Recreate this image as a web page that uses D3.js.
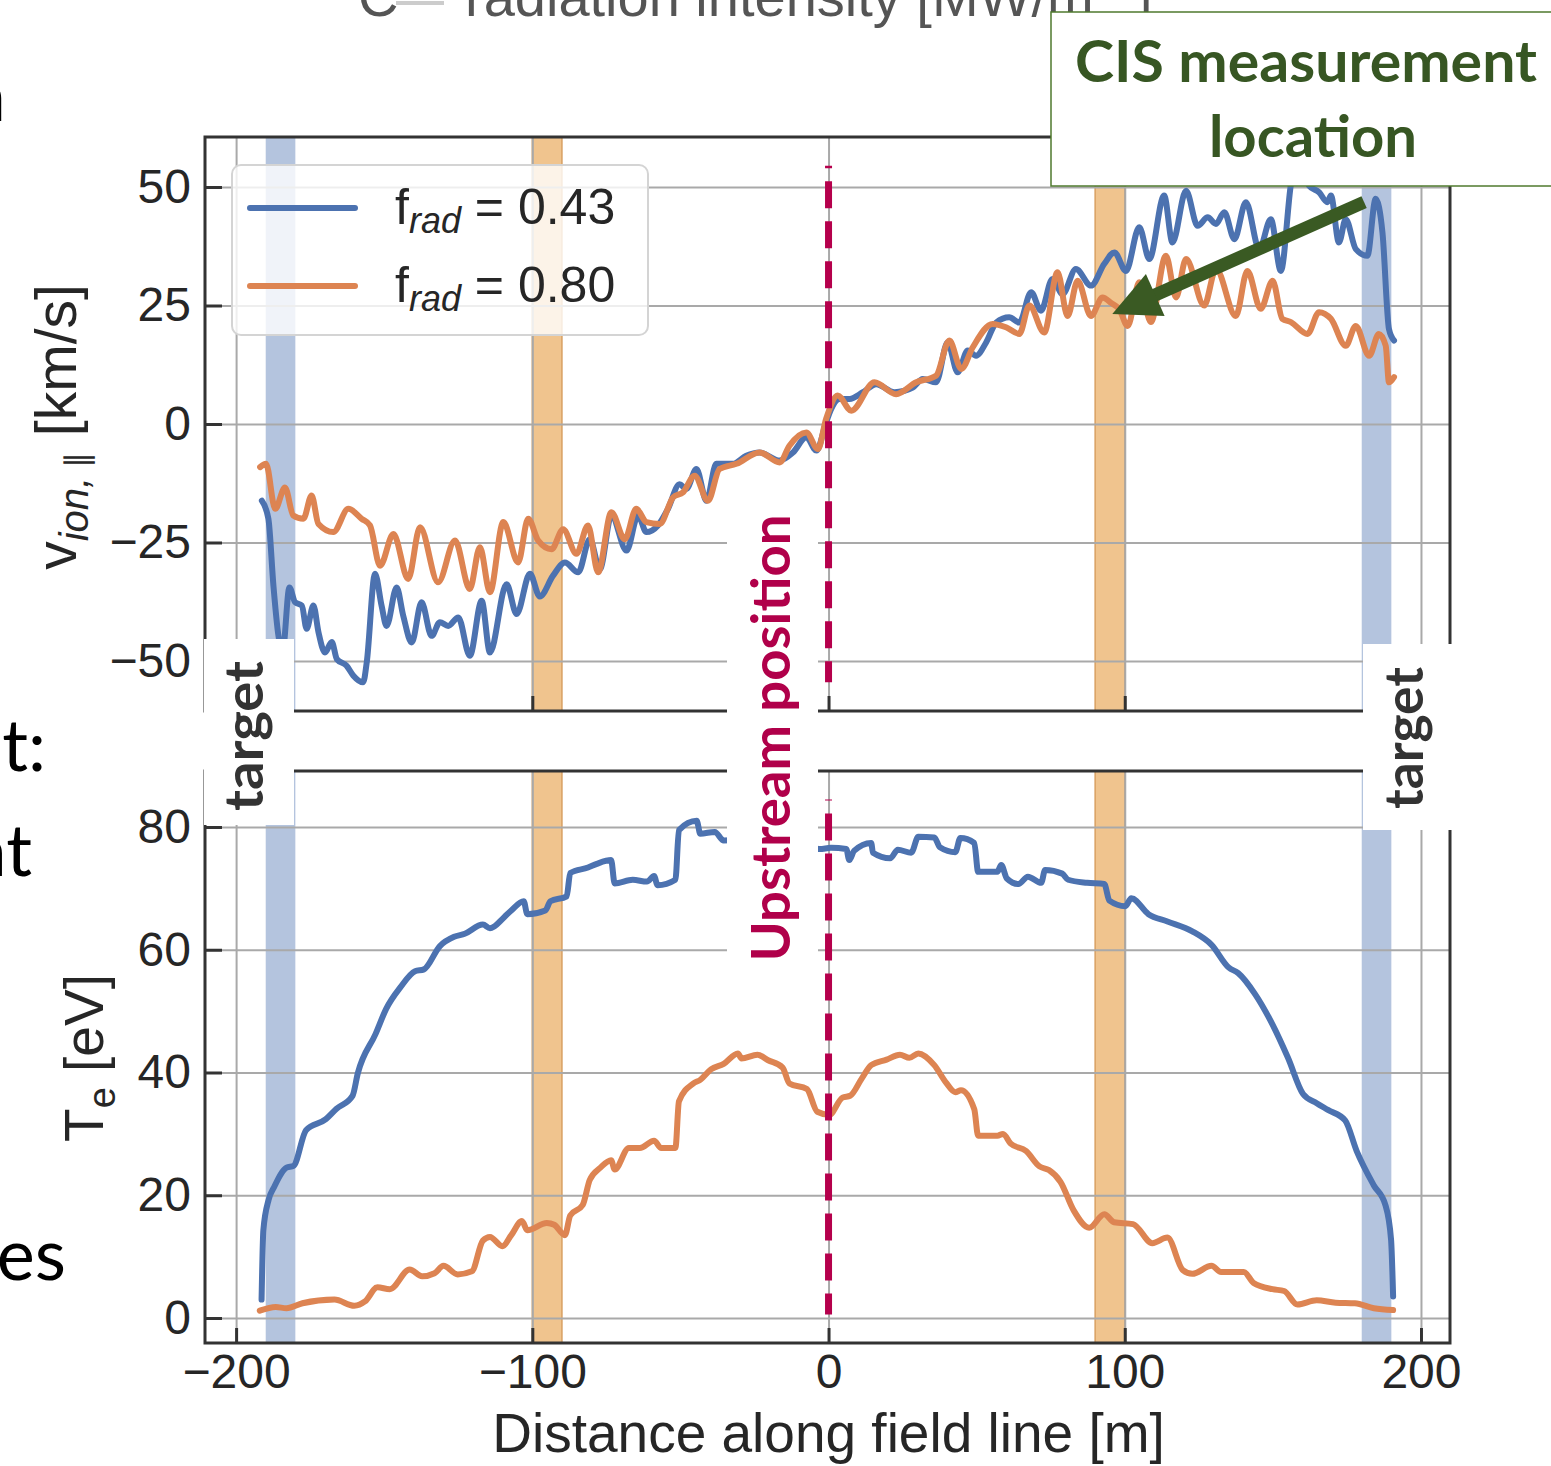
<!DOCTYPE html>
<html>
<head>
<meta charset="utf-8">
<script src="https://d3js.org/d3.v7.min.js"></script>
<style>
  body {margin:0; background:#fff;}
  svg {display:block;}
</style>
</head>
<body>
<div id="chart"></div>
<script>
// ---- data ----
var xTicks = [-200, -100, 0, 100, 200];
var vTicks = [-50, -25, 0, 25, 50];
var tTicks = [0, 20, 40, 60, 80];
var blueBands = [[-190, -180], [180, 190]];
var orangeBands = [[-100, -90], [90, 100]];
var legendLabels = ["0.43", "0.80"];

// parallel ion velocity [km/s], f_rad = 0.43
var vBlue = [[-191.3,-16.2],[-189.1,-20],[-187.4,-34.1],[-185.7,-44.7],[-184.3,-48],[-182,-34.5],[-180.1,-37.6],[-177.8,-38.3],[-176.2,-43.2],[-173.9,-38.3],[-172.2,-43.9],[-170,-48.2],[-167.7,-46],[-166,-49.6],[-162.7,-51],[-160.4,-53.1],[-157.1,-54.5],[-155.9,-50.3],[-153.1,-31.6],[-150.9,-38.3],[-149.2,-42.6],[-145.8,-34.5],[-143.6,-40.4],[-140.7,-46.1],[-137.4,-37.6],[-134,-44.7],[-131.2,-41.8],[-128.4,-42.6],[-125,-40.8],[-121.1,-48.9],[-117.1,-37.3],[-114.3,-48.2],[-108.7,-33.8],[-105.3,-40.1],[-100.8,-31.6],[-97.5,-36.4],[-93,-32],[-89,-29.2],[-84.5,-31.3],[-80.6,-24.3],[-77.2,-30.6],[-73.3,-19.3],[-68.2,-26.7],[-64.3,-19.3],[-61.5,-22.8],[-57.6,-21.4],[-54.2,-17.9],[-50.3,-12.7],[-48,-13.7],[-44.6,-9.5],[-41.2,-16.2],[-37.9,-8.4],[-32.3,-8.4],[-27.8,-6.7],[-23.3,-6],[-16.5,-7.7],[-12,-6],[-7.5,-2.8],[-4.1,-5.6],[-0.8,0.4],[0.9,3.2],[3.7,5.3],[7.1,5.3],[11.6,6.7],[16.1,8.4],[22.3,6.7],[28.4,7.7],[31.8,9.5],[36.3,8.8],[40.2,17.2],[43.6,10.9],[47,15.5],[49.8,14.4],[53.2,17.2],[56.6,21.4],[61,22.5],[64.4,21.4],[68.4,27.8],[71.7,23.9],[75.6,30.6],[79,27.4],[83.5,32.7],[88.6,29.2],[93.1,33.8],[96.5,36.2],[100.4,32.3],[104.9,41.5],[108.3,34.8],[113.3,48.2],[116.1,38.3],[120.7,49.2],[124.6,41.8],[128,43.6],[130.8,42.2],[133.6,44.7],[137,39],[140.9,46.8],[145.4,36.9],[149.3,43.2],[152.7,32.3],[156.1,50.6],[158.5,57],[160.5,54],[162.2,50.3],[165.6,48.9],[168.4,46.8],[169.6,48.2],[172.3,38.3],[174.6,43.2],[178,36.9],[181.9,35.5],[184.7,47.5],[187,40.4],[189.2,20],[190.9,17.6]];

// parallel ion velocity [km/s], f_rad = 0.80
var vOrange = [[-191.9,-9.1],[-189.9,-8.4],[-186.8,-17.9],[-183.5,-13.4],[-180.7,-19.3],[-177.3,-20],[-174.5,-15.1],[-172.2,-21.1],[-167.2,-22.8],[-162.1,-17.9],[-157.6,-20],[-154.8,-21.4],[-151.4,-29.9],[-146.9,-23.2],[-141.9,-32.7],[-137.9,-21.8],[-131.8,-33.4],[-126.1,-24.6],[-121.1,-34.8],[-117.7,-26],[-114.3,-35.5],[-109.8,-20.7],[-104.8,-29.2],[-101.4,-20],[-98,-24.6],[-93.5,-26.4],[-89.6,-22.2],[-85.1,-27.4],[-81.2,-21.4],[-77.8,-31.3],[-73.3,-18.6],[-68.8,-24.3],[-64.9,-17.9],[-61.5,-20.7],[-57,-21.1],[-52.5,-15.5],[-49.1,-14.4],[-45.2,-10.9],[-40.7,-16.2],[-36.8,-9.5],[-31.1,-8.4],[-23.3,-6],[-16.5,-8.1],[-13.2,-4.6],[-7.5,-1.8],[-3.6,-5.3],[-0.8,1.1],[3.1,6],[7.7,2.8],[15.5,8.8],[22.8,6.3],[29.6,8.8],[36.3,10.2],[40.8,17.6],[44.8,11.6],[48.7,16.2],[55.4,21.1],[59.9,20.4],[64.4,19],[67.8,25],[72.8,19.3],[77.3,32],[80.7,22.8],[84.1,30.2],[88.6,22.8],[92.5,26.7],[95.5,25.5],[98.1,24.3],[101,20.7],[104.9,29.9],[108.8,21.5],[113.9,35.5],[117.3,26.7],[120.7,34.8],[126.8,25],[130.8,32.7],[137.5,22.8],[141.4,32.3],[145.9,24.3],[149.9,30.2],[153.2,22.2],[156.1,21.5],[161.7,19],[165.6,23.6],[169.6,22.2],[174.6,16.5],[178,20.7],[182.5,14.4],[185.8,19],[188.1,16.5],[189.2,8.8],[190.9,9.9]];

// electron temperature [eV], f_rad = 0.43
var tBlue = [[-191.4,3],[-190.8,14.3],[-189,19.3],[-187.2,21.3],[-183,24.5],[-180.6,24.8],[-176.4,30.6],[-169.7,32.4],[-166.1,34.1],[-160.7,36.2],[-158.9,39.9],[-152.9,46.3],[-149.3,50.4],[-144.5,53.9],[-139.6,56.5],[-136.6,56.8],[-131.2,60.6],[-126.4,62.1],[-122.8,62.6],[-116.7,64.1],[-114.3,63.5],[-109.5,65.3],[-107.1,66.4],[-102.9,67.9],[-101.7,65.8],[-95.6,66.4],[-93.9,67.9],[-88.4,68.7],[-87.2,72.5],[-81.2,73.4],[-78.2,74],[-73.4,74.6],[-72.2,70.8],[-66.1,71.4],[-61.3,71.1],[-58.9,72],[-57.7,70.5],[-51.7,71.4],[-50.5,79.5],[-44.5,81],[-43.3,78.9],[-38.4,79.2],[-35.4,77.8],[-25,78],[-12,77],[-3,76.4],[0.8,76.6],[6,76.4],[7,74.6],[8.6,76.1],[14.4,77.4],[15,75.8],[20.8,74.9],[23.4,76.3],[27.9,75.8],[30.3,78.4],[35.7,78.3],[37.6,76.7],[42.8,75.9],[44.5,78.2],[49.2,77.4],[50.5,72.7],[57,72.7],[58.3,73.8],[60.2,71.6],[64.1,70.7],[67.3,71.9],[71.8,70.9],[73.1,73],[78.9,72.4],[80.9,71.4],[87.3,70.9],[93.1,70.7],[94.8,68],[100.2,67.1],[102.2,68.4],[108,65.8],[114.4,64.6],[122.8,63],[129.3,60.8],[135.1,57.1],[138.3,56.2],[144.1,52.7],[149.9,47.8],[155.1,42.4],[160.2,36.5],[164.8,35],[168.6,33.9],[174.4,32.2],[178.3,27.2],[184.1,21.6],[188,18.4],[189.9,12.8],[190.6,3.5]];

// electron temperature [eV], f_rad = 0.80
var tOrange = [[-192,1.2],[-186.6,1.8],[-183,1.6],[-177.6,2.4],[-166.8,3],[-160.1,2],[-156.5,2.7],[-152.3,5],[-148.1,4.7],[-141.4,7.9],[-137.2,6.8],[-133,7.3],[-130,8.5],[-125.2,7.1],[-120.4,7.6],[-116.7,12.6],[-114.3,13.2],[-110.1,11.7],[-107.1,13.5],[-103.5,15.8],[-101.7,14.3],[-95.1,15.5],[-92.6,15.2],[-89,13.5],[-87.2,16.7],[-83,18.4],[-80.6,22.5],[-77,24.5],[-73.4,25.7],[-72.2,24.2],[-67.4,27.7],[-63.7,27.7],[-58.9,28.9],[-56.5,27.7],[-51.7,27.7],[-50.5,35.3],[-45.7,38.2],[-43.3,38.8],[-39.7,40.5],[-35.4,41.4],[-30.6,43.1],[-29.4,42.3],[-24,42.9],[-20.4,42],[-15.5,40.8],[-13.2,38.2],[-7.3,37.3],[-3.8,33.6],[0.2,33.1],[4.7,35.9],[7.3,36.2],[11.2,39],[14.4,41.2],[19.6,42.1],[24.1,42.9],[27.3,42.4],[30.3,43.1],[35.7,41.2],[39.6,38.4],[42.8,36.8],[44.7,37.1],[49.2,34],[50.5,29.7],[57,29.7],[58.9,30],[61.5,28.4],[66.7,27.2],[71.2,24.7],[74.4,24.1],[78.3,22.2],[82.8,17.5],[88,14.7],[93.1,16.9],[96.4,15.6],[102.8,15.3],[109.3,12.2],[114.4,13.1],[119.6,7.8],[122.8,7.2],[129.3,8.5],[132.5,7.5],[140.2,7.5],[143.5,5.7],[149.9,4.7],[153.8,4.4],[158.3,2.2],[164.8,2.9],[171.2,2.5],[177.7,2.4],[184.1,1.6],[190.6,1.3]];

// CIS arrow: from [x, v] to [x, v]
var arrowFrom = [180.8, 46.8], arrowTo = [95.8, 23.2];

var BLUE = "#4c72b0", ORANGE = "#dd8452", CRIMSON = "#b5004c", GREEN = "#3a5a23";
var mplFont = "'Liberation Sans', Arial, sans-serif";
var slideFont = "Lato, 'Open Sans', sans-serif";

var W = 1551, H = 1466;
var left = 205, right = 1450;

var svg = d3.select("#chart").append("svg")
  .attr("width", W)
  .attr("height", H)
  .style("background", "#fff");

var x = d3.scaleLinear().domain([-210.5, 209.8]).range([left, right]);
var yV = d3.scaleLinear().domain([-60.55, 60.55]).range([711, 137]);
var yT = d3.scaleLinear().domain([-4.07, 89.12]).range([1343, 771]);

function drawPanel(y, yTicks, series, showXLabels) {
  var yb = y.range()[0], yt = y.range()[1], h = yb - yt;
  var g = svg.append("g");

  blueBands.forEach(function(b) {
    g.append("rect")
      .attr("x", x(b[0])).attr("width", x(b[1]) - x(b[0]))
      .attr("y", yt).attr("height", h)
      .attr("fill", BLUE).attr("fill-opacity", 0.42);
  });
  orangeBands.forEach(function(b) {
    g.append("rect")
      .attr("x", x(b[0])).attr("width", x(b[1]) - x(b[0]))
      .attr("y", yt).attr("height", h)
      .attr("fill", "#f0c48e")
      .attr("stroke", "#d9a062").attr("stroke-width", 1.5);
  });

  // grid
  g.append("g")
    .attr("transform", "translate(0," + yb + ")")
    .call(d3.axisBottom(x).tickValues(xTicks).tickSize(-h).tickFormat(""))
    .call(function(a) {
      a.select(".domain").remove();
      a.selectAll("line").attr("stroke", "#a9a9a9").attr("stroke-width", 2);
    });
  g.append("g")
    .attr("transform", "translate(" + left + ",0)")
    .call(d3.axisLeft(y).tickValues(yTicks).tickSize(-(right - left)).tickFormat(""))
    .call(function(a) {
      a.select(".domain").remove();
      a.selectAll("line").attr("stroke", "#a9a9a9").attr("stroke-width", 2);
    });

  var line = d3.line()
    .x(function(d) { return x(d[0]); })
    .y(function(d) { return y(d[1]); })
    .curve(d3.curveMonotoneX);

  series.forEach(function(s) {
    g.append("path")
      .datum(s.data)
      .attr("d", line)
      .attr("fill", "none")
      .attr("stroke", s.color)
      .attr("stroke-width", 6)
      .attr("stroke-linejoin", "round")
      .attr("stroke-linecap", "round");
  });

  // upstream position marker (5%..95% of the axis height)
  g.append("line")
    .attr("x1", x(0)).attr("x2", x(0))
    .attr("y1", yb - 0.05 * h).attr("y2", yt + 0.05 * h)
    .attr("stroke", CRIMSON)
    .attr("stroke-width", 7)
    .attr("stroke-dasharray", "27,13")
    .attr("stroke-dashoffset", 6);

  // frame
  g.append("rect")
    .attr("x", left).attr("y", yt)
    .attr("width", right - left).attr("height", h)
    .attr("fill", "none").attr("stroke", "#333").attr("stroke-width", 3);

  var xa = g.append("g")
    .attr("transform", "translate(0," + yb + ")")
    .call(d3.axisBottom(x).tickValues(xTicks)
      .tickSizeInner(-15).tickSizeOuter(0).tickPadding(11)
      .tickFormat(showXLabels ? d3.format("d") : ""));
  xa.select(".domain").remove();
  xa.selectAll("line").attr("stroke", "#333").attr("stroke-width", 3);
  xa.selectAll("text")
    .attr("font-family", mplFont).attr("font-size", 48).attr("fill", "#262626");

  var ya = g.append("g")
    .attr("transform", "translate(" + left + ",0)")
    .call(d3.axisLeft(y).tickValues(yTicks)
      .tickSizeInner(-17).tickSizeOuter(0).tickPadding(14)
      .tickFormat(d3.format("d")));
  ya.select(".domain").remove();
  ya.selectAll("line").attr("stroke", "#333").attr("stroke-width", 3);
  ya.selectAll("text")
    .attr("font-family", mplFont).attr("font-size", 48).attr("fill", "#262626");

  return g;
}

var topPanel = drawPanel(yV, vTicks, [{data: vBlue, color: BLUE}, {data: vOrange, color: ORANGE}], false);
drawPanel(yT, tTicks, [{data: tBlue, color: BLUE}, {data: tOrange, color: ORANGE}], true);

// legend
var lg = topPanel.append("g");
lg.append("rect")
  .attr("x", 232).attr("y", 165).attr("width", 416).attr("height", 170)
  .attr("rx", 9)
  .attr("fill", "#fff").attr("fill-opacity", 0.8)
  .attr("stroke", "#d4d4d4").attr("stroke-width", 2);
[BLUE, ORANGE].forEach(function(c, i) {
  var ly = 208 + i * 78;
  lg.append("line")
    .attr("x1", 250).attr("x2", 355).attr("y1", ly).attr("y2", ly)
    .attr("stroke", c).attr("stroke-width", 6).attr("stroke-linecap", "round");
  var t = lg.append("text")
    .attr("x", 395).attr("y", ly + 16)
    .attr("font-family", mplFont).attr("font-size", 50).attr("fill", "#262626");
  t.append("tspan").text("f");
  t.append("tspan").attr("dy", 9).attr("font-size", 36).attr("font-style", "italic").text("rad");
  t.append("tspan").attr("dy", -9).text(" = " + legendLabels[i]);
});

// axis labels
svg.append("text")
  .attr("x", x(0)).attr("y", 1452)
  .attr("text-anchor", "middle")
  .attr("font-family", mplFont).attr("font-size", 55).attr("fill", "#262626")
  .text("Distance along field line [m]");

var vl = svg.append("text")
  .attr("transform", "translate(76,427) rotate(-90)")
  .attr("text-anchor", "middle")
  .attr("font-family", mplFont).attr("font-size", 57).attr("fill", "#262626");
vl.append("tspan").text("v");
vl.append("tspan").attr("dy", 12).attr("font-size", 40).attr("font-style", "italic").text("ion,");
vl.append("tspan").attr("font-size", 32).text(" \u2225");
vl.append("tspan").attr("dy", -12).text("   [km/s]");

var tl = svg.append("text")
  .attr("transform", "translate(103,1058) rotate(-90)")
  .attr("text-anchor", "middle")
  .attr("font-family", mplFont).attr("font-size", 55).attr("fill", "#262626");
tl.append("tspan").text("T");
tl.append("tspan").attr("dy", 12).attr("font-size", 38).text("e");
tl.append("tspan").attr("dy", -12).text(" [eV]");

// ---- slide overlays ----
var ov = svg.append("g");

// cut-off text at the top of the slide
ov.append("text")
  .attr("x", 358).attr("y", 16)
  .attr("font-family", "'Liberation Sans Narrow', 'Liberation Sans', sans-serif")
  .attr("font-size", 56).attr("fill", "#555")
  .text("C");
ov.append("line")
  .attr("x1", 396).attr("x2", 444).attr("y1", 3).attr("y2", 3)
  .attr("stroke", "#ccc").attr("stroke-width", 4);
var rt = ov.append("text")
  .attr("x", 465).attr("y", 16)
  .attr("font-family", "'Liberation Sans Narrow', 'Liberation Sans', sans-serif")
  .attr("font-size", 56).attr("fill", "#555");
rt.append("tspan").text("radiation intensity [MW/m");
rt.append("tspan").attr("dy", -16).attr("font-size", 38).text("\u22122");
rt.append("tspan").attr("dy", 16).text("]");

// cut-off slide text at the left edge
[["n", 6, 121], ["nt:", 46, 771], ["ent", 32, 876], ["lines", 66, 1280]].forEach(function(f) {
  ov.append("text")
    .attr("x", f[1]).attr("y", f[2])
    .attr("text-anchor", "end")
    .attr("font-family", slideFont).attr("font-size", 72).attr("fill", "#000")
    .text(f[0]);
});

// white label boxes
function vLabel(bx, by, bw, bh, cx, cy, txt, color, len) {
  ov.append("rect").attr("x", bx).attr("y", by).attr("width", bw).attr("height", bh).attr("fill", "#fff");
  ov.append("text")
    .attr("transform", "translate(" + cx + "," + cy + ") rotate(-90)")
    .attr("text-anchor", "middle")
    .attr("font-family", slideFont).attr("font-weight", 700)
    .attr("font-size", 54).attr("fill", color)
    .attr("textLength", len).attr("lengthAdjust", "spacingAndGlyphs")
    .text(txt);
}
vLabel(204, 639, 90, 186, 263, 736, "target", "#333", 150);
vLabel(1363, 644, 94, 186, 1423, 738, "target", "#333", 142);
vLabel(727, 505, 91, 480, 790, 738, "Upstream position", "#b0004a", 447);

// CIS measurement box
ov.append("rect")
  .attr("x", 1051).attr("y", 12).attr("width", 520).attr("height", 174)
  .attr("fill", "#fff").attr("stroke", "#4f7a2e").attr("stroke-width", 1.5);
ov.append("text")
  .attr("x", 1306).attr("y", 82)
  .attr("text-anchor", "middle")
  .attr("font-family", slideFont).attr("font-weight", 700)
  .attr("font-size", 58).attr("fill", "#375623")
  .attr("textLength", 462).attr("lengthAdjust", "spacingAndGlyphs")
  .text("CIS measurement");
ov.append("text")
  .attr("x", 1313).attr("y", 157)
  .attr("text-anchor", "middle")
  .attr("font-family", slideFont).attr("font-weight", 700)
  .attr("font-size", 58).attr("fill", "#375623")
  .text("location");

// arrow pointing at the measurement location
(function() {
  var x0 = x(arrowFrom[0]), y0 = yV(arrowFrom[1]);
  var x1 = x(arrowTo[0]), y1 = yV(arrowTo[1]);
  var dx = x1 - x0, dy = y1 - y0, L = Math.sqrt(dx * dx + dy * dy);
  var ux = dx / L, uy = dy / L, px = -uy, py = ux;
  var headL = 47, headW = 23;
  var bx = x1 - ux * headL, by = y1 - uy * headL;
  ov.append("line")
    .attr("x1", x0).attr("y1", y0).attr("x2", bx + ux * 2).attr("y2", by + uy * 2)
    .attr("stroke", GREEN).attr("stroke-width", 13);
  ov.append("path")
    .attr("d", "M" + x1 + "," + y1 +
      "L" + (bx + px * headW) + "," + (by + py * headW) +
      "L" + (bx - px * headW) + "," + (by - py * headW) + "Z")
    .attr("fill", GREEN);
})();
</script>
</body>
</html>
